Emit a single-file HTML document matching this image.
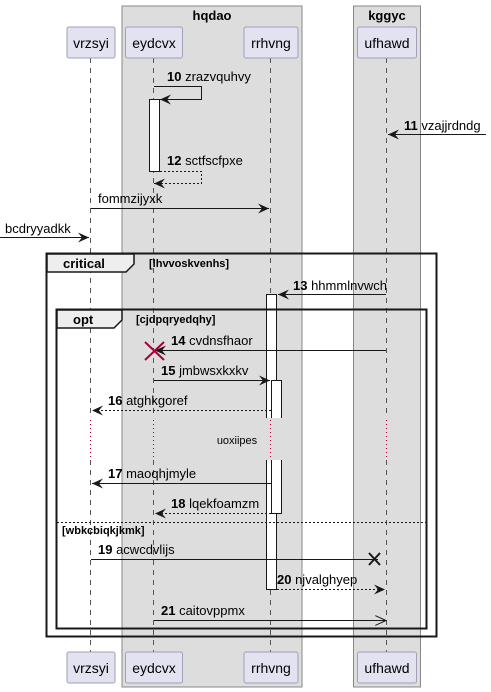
<!DOCTYPE html>
<html><head><style>
html,body{margin:0;padding:0;background:#fff;}
svg{display:block;font-family:"Liberation Sans",sans-serif;}
.lbl{font-size:13px;fill:#000;}
.num{font-size:13px;font-weight:bold;}
.pt{font-size:14px;}
</style></head><body>
<svg width="491" height="692" viewBox="0 0 491 692" xmlns="http://www.w3.org/2000/svg">
<defs>
<marker id="ah" markerWidth="12" markerHeight="10" refX="11" refY="5" orient="auto" markerUnits="userSpaceOnUse">
<path d="M0,0 L11,5 L0,10 L4,5 Z" fill="#181818"/></marker>
<marker id="oa" markerWidth="12" markerHeight="10" refX="11" refY="5" orient="auto" markerUnits="userSpaceOnUse">
<path d="M0,0 L11,5 L0,10" fill="none" stroke="#181818"/></marker>
</defs>
<rect x="122" y="6" width="180" height="681" fill="#dddddd" stroke="#888" stroke-width="1"/>
<text x="212" y="20" text-anchor="middle" font-size="13" font-weight="bold">hqdao</text>
<rect x="353.5" y="6" width="67" height="681" fill="#dddddd" stroke="#888" stroke-width="1"/>
<text x="387" y="20" text-anchor="middle" font-size="13" font-weight="bold">kggyc</text>
<g stroke="#555" stroke-dasharray="5,5" stroke-width="1">
<line x1="90.5" y1="58" x2="90.5" y2="418"/><line x1="90.5" y1="460" x2="90.5" y2="652"/>
<line x1="153.5" y1="58" x2="153.5" y2="418"/><line x1="153.5" y1="460" x2="153.5" y2="652"/>
<line x1="270.5" y1="58" x2="270.5" y2="418"/><line x1="270.5" y1="460" x2="270.5" y2="652"/>
<line x1="386.5" y1="58" x2="386.5" y2="418"/><line x1="386.5" y1="460" x2="386.5" y2="652"/>
</g>
<g stroke="#a80036" stroke-dasharray="1,3" stroke-width="1">
<line x1="90.5" y1="420" x2="90.5" y2="458"/><line x1="153.5" y1="420" x2="153.5" y2="458"/>
<line x1="270.5" y1="420" x2="270.5" y2="458"/><line x1="386.5" y1="420" x2="386.5" y2="458"/>
</g>
<text x="237" y="444" text-anchor="middle" font-size="11">uoxiipes</text>
<g fill="#e2e2f0" stroke="#a0a0b8" stroke-width="1">
<rect x="67" y="27" width="48" height="31" rx="2"/>
<rect x="125.5" y="27" width="57" height="31" rx="2"/>
<rect x="244" y="27" width="54" height="31" rx="2"/>
<rect x="357.5" y="27" width="59" height="31" rx="2"/>
<rect x="67" y="652" width="48" height="31" rx="2"/>
<rect x="125.5" y="652" width="57" height="31" rx="2"/>
<rect x="244" y="652" width="54" height="31" rx="2"/>
<rect x="357.5" y="652" width="59" height="31" rx="2"/>
</g>
<g class="pt" text-anchor="middle">
<text x="91" y="48">vrzsyi</text><text x="154" y="48">eydcvx</text><text x="271" y="48">rrhvng</text><text x="387" y="48">ufhawd</text>
<text x="91" y="673">vrzsyi</text><text x="154" y="673">eydcvx</text><text x="271" y="673">rrhvng</text><text x="387" y="673">ufhawd</text>
</g>
<g fill="#fff" stroke="#181818" stroke-width="1">
<rect x="149.5" y="99.5" width="10" height="72"/>
<path d="M266.5,418 V294.5 H276.5 V418"/>
<path d="M266.5,460 V589.5 H276.5 V460"/>
<path d="M271.5,418 V380.5 H281.5 V418"/>
<path d="M271.5,460 V513.5 H281.5 V460"/>
</g>
<g fill="none" stroke="#181818">
<rect x="46.5" y="253.5" width="390" height="383" stroke-width="2"/>
<rect x="56.5" y="309.5" width="370" height="319" stroke-width="2"/>
<line x1="57" y1="522.5" x2="426" y2="522.5" stroke-width="1" stroke-dasharray="2,2"/>
</g>
<path d="M47,254 H134 V264 L126,272 H47 Z" fill="#eee" stroke="#181818" stroke-width="1.5"/>
<text x="63" y="268" font-size="13" font-weight="bold">critical</text>
<text x="149" y="267" font-size="11" font-weight="bold">[lhvvoskvenhs]</text>
<path d="M57,310 H122 V320 L114,328 H57 Z" fill="#eee" stroke="#181818" stroke-width="1.5"/>
<text x="73" y="324" font-size="13" font-weight="bold">opt</text>
<text x="136" y="323" font-size="11" font-weight="bold">[cjdpqryedqhy]</text>
<text x="62" y="534" font-size="11" font-weight="bold">[wbkcbiqkjkmk]</text>
<g stroke="#181818" stroke-width="1" fill="none">
<polyline points="154,86.5 201.5,86.5 201.5,99.5 160,99.5" marker-end="url(#ah)"/>
<line x1="486" y1="134.5" x2="388" y2="134.5" marker-end="url(#ah)"/>
<polyline points="160,171.5 201.5,171.5 201.5,183.5 154,183.5" stroke-dasharray="2,2" marker-end="url(#ah)"/>
<line x1="91" y1="208.5" x2="269" y2="208.5" marker-end="url(#ah)"/>
<line x1="0" y1="237.5" x2="89" y2="237.5" marker-end="url(#ah)"/>
<line x1="386" y1="294.5" x2="278" y2="294.5" marker-end="url(#ah)"/>
<line x1="386" y1="350.5" x2="155" y2="350.5" marker-end="url(#ah)"/>
<line x1="154" y1="380.5" x2="270" y2="380.5" marker-end="url(#ah)"/>
<line x1="271" y1="410.5" x2="92" y2="410.5" stroke-dasharray="2,2" marker-end="url(#ah)"/>
<line x1="271" y1="483.5" x2="92" y2="483.5" marker-end="url(#ah)"/>
<line x1="271" y1="513.5" x2="155" y2="513.5" stroke-dasharray="2,2" marker-end="url(#ah)"/>
<line x1="91" y1="559.5" x2="378" y2="559.5"/>
<line x1="277" y1="589.5" x2="385" y2="589.5" stroke-dasharray="2,2" marker-end="url(#ah)"/>
<line x1="154" y1="620.5" x2="386" y2="620.5" marker-end="url(#oa)"/>
</g>
<g stroke="#a80036" stroke-width="2"><line x1="145" y1="342" x2="164" y2="360"/><line x1="164" y1="342" x2="145" y2="360"/></g>
<g stroke="#181818" stroke-width="2"><line x1="369" y1="553" x2="380" y2="565"/><line x1="380" y1="553" x2="369" y2="565"/></g>
<g class="lbl">
<text x="167" y="81"><tspan class="num">10</tspan> zrazvquhvy</text>
<text x="404" y="130"><tspan class="num">11</tspan> vzajjrdndg</text>
<text x="167" y="165"><tspan class="num">12</tspan> sctfscfpxe</text>
<text x="98" y="203">fommzijyxk</text>
<text x="5" y="233">bcdryyadkk</text>
<text x="293" y="290"><tspan class="num">13</tspan> hhmmlnvwch</text>
<text x="171" y="345"><tspan class="num">14</tspan> cvdnsfhaor</text>
<text x="161" y="375"><tspan class="num">15</tspan> jmbwsxkxkv</text>
<text x="108" y="405"><tspan class="num">16</tspan> atghkgoref</text>
<text x="108" y="478"><tspan class="num">17</tspan> maoqhjmyle</text>
<text x="171" y="508"><tspan class="num">18</tspan> lqekfoamzm</text>
<text x="98" y="554"><tspan class="num">19</tspan> acwcdvlijs</text>
<text x="277" y="584"><tspan class="num">20</tspan> njvalghyep</text>
<text x="161" y="615"><tspan class="num">21</tspan> caitovppmx</text>
</g>
</svg>
</body></html>
